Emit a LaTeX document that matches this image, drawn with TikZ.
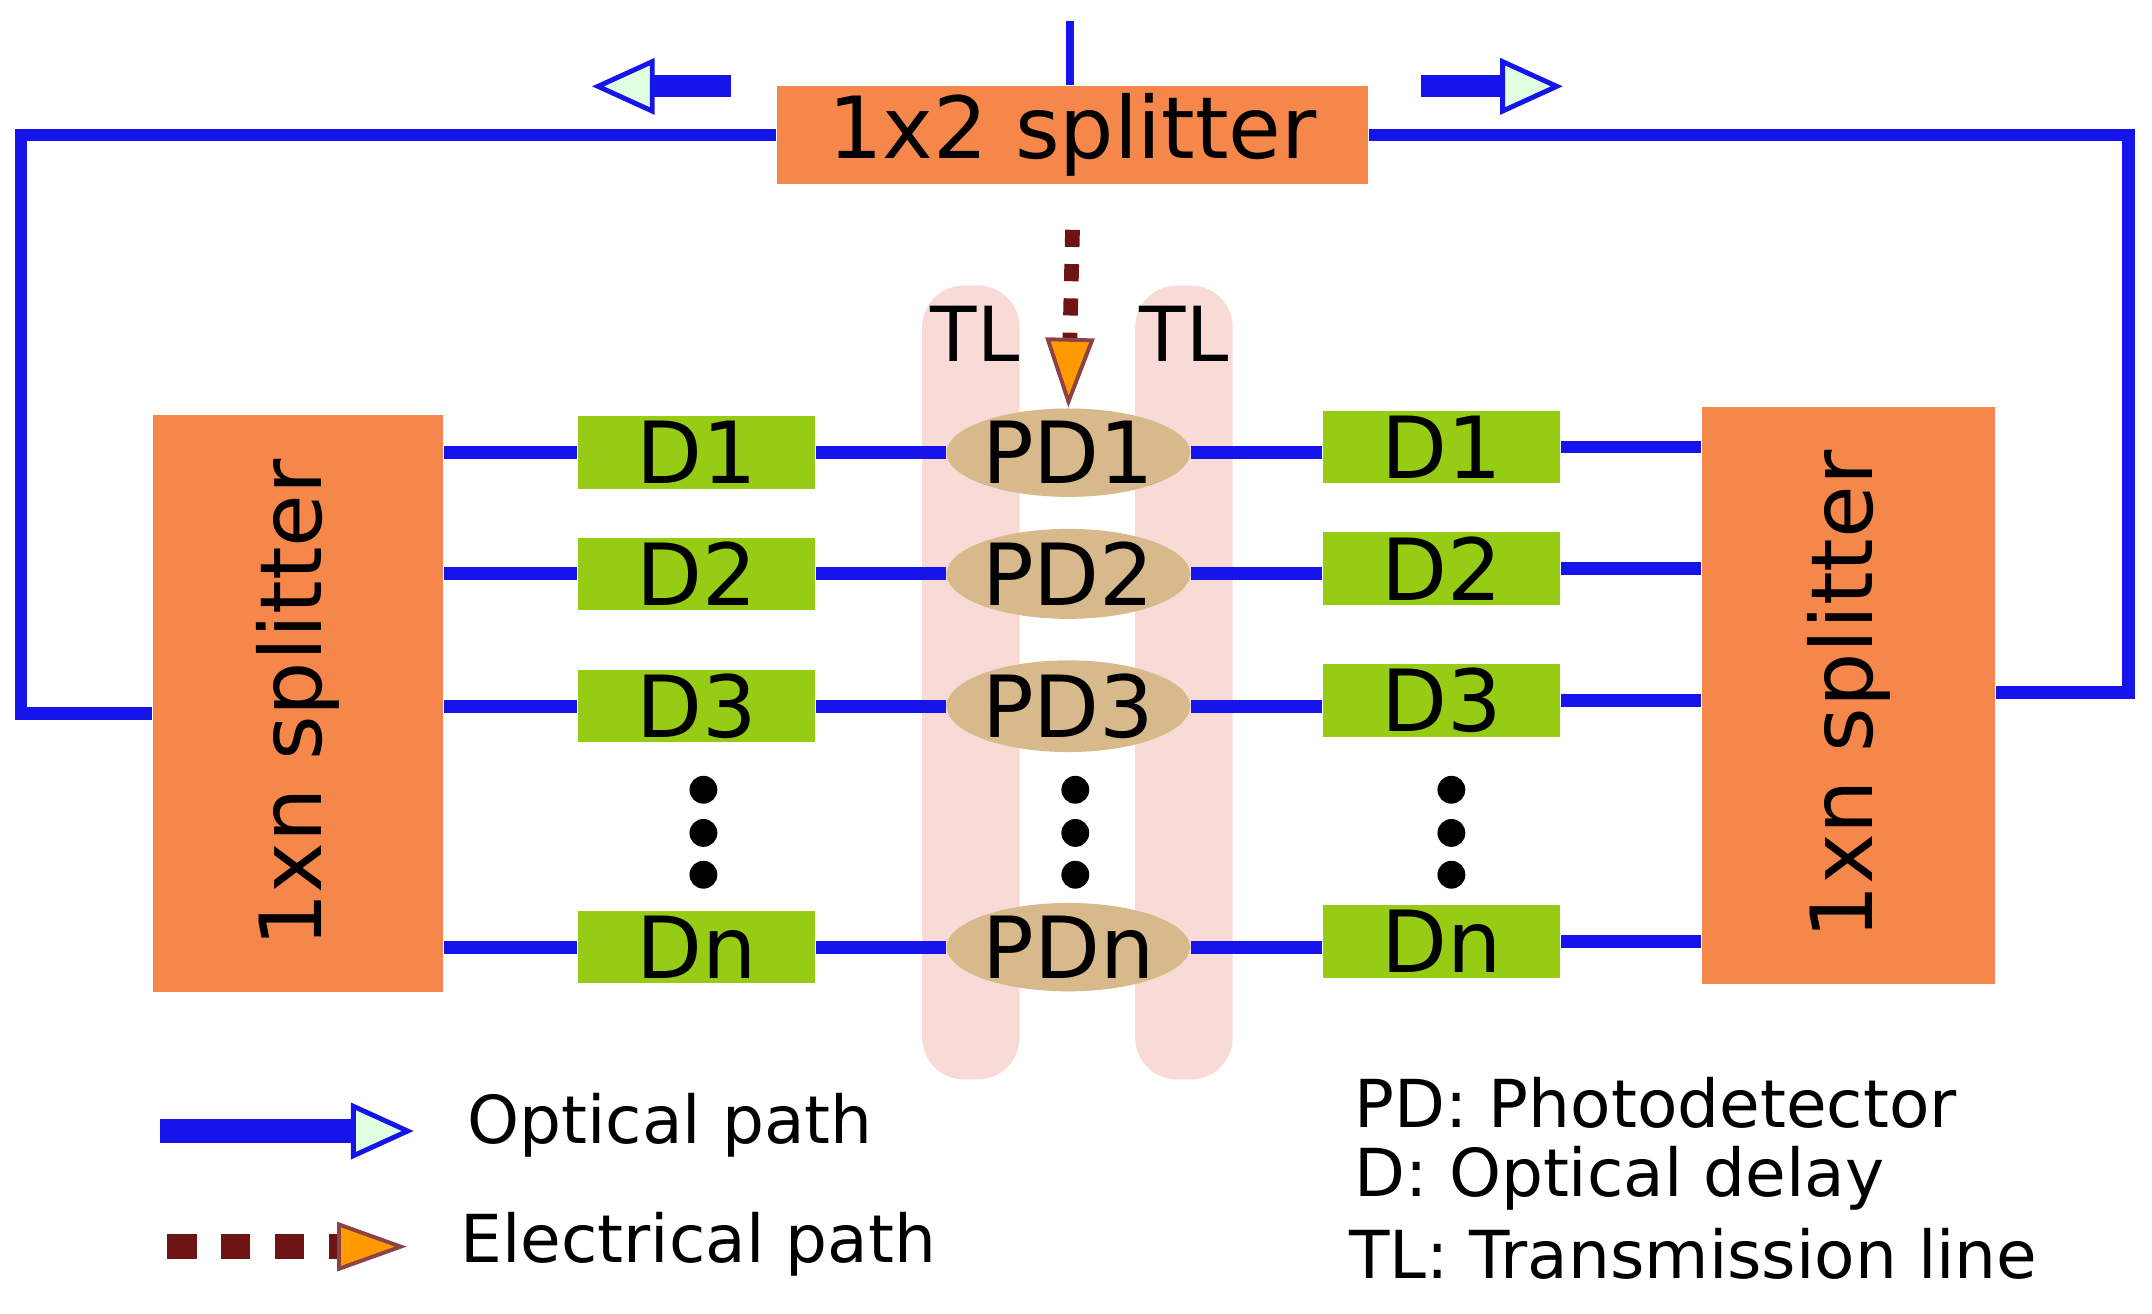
\documentclass[tikz,border=0pt]{standalone}
\usepackage{fontspec}
\setmainfont{DejaVu Sans}
\usetikzlibrary{arrows.meta,shapes.geometric}
\definecolor{orng}{RGB}{245,135,75}
\definecolor{grn}{RGB}{150,205,20}
\definecolor{pdc}{RGB}{215,185,140}
\definecolor{tlc}{RGB}{248,218,215}
\definecolor{dred}{RGB}{110,20,20}
\definecolor{optb}{RGB}{20,20,235}
\tikzset{
  opt/.style={draw=optb,line width=2.6pt},
  splt/.style={fill=orng,draw=none,inner sep=0pt,font=\fontsize{17.5}{21}\selectfont},
  dbox/.style={fill=grn,draw=none,minimum width=1.7cm,minimum height=0.52cm,inner sep=0pt,font=\fontsize{17.5}{21}\selectfont},
  pdn/.style={ellipse,fill=pdc,draw=none,minimum width=1.65cm,minimum height=0.5cm,inner sep=0pt,font=\fontsize{17.5}{21}\selectfont},
  dotc/.style={circle,fill=black,inner sep=0pt,minimum size=0.2cm},
  optarr/.style={opt,-{Triangle[length=0.45cm,width=0.4cm,fill=green!12,color=optb,line width=1pt]}},
  elarr/.style={draw=dred,line width=3pt,dash pattern=on 3.5pt off 3.5pt,-{Triangle[length=0.5cm,width=0.35cm,fill=orange!80!yellow,color=dred!80,line width=0.8pt]}},
  lbl/.style={font=\fontsize{13.5}{16}\selectfont,anchor=west,inner sep=0pt},
  tls/.style={fill=tlc,draw=none,rounded corners=0.3cm}
}
\begin{document}
\begin{tikzpicture}[x=0.01cm,y=-0.01cm]
\useasboundingbox (0,0) rectangle (1545,943);
% TL strips
\fill[tls] (662,205) rectangle (732,775);
\fill[tls] (815,205) rectangle (885,775);
% top splitter
\node[splt,minimum width=4.24cm,minimum height=0.7cm] (top) at (770,97) {1x2 splitter};
\coordinate (in) at (768,15);
\draw[opt,line width=1.6pt] (in) -- (in |- top.north);
% loop
\node[splt,minimum width=2.08cm,minimum height=4.14cm] (L) at (214,505) {\rotatebox{90}{1xn splitter}};
\node[splt,minimum width=2.1cm,minimum height=4.14cm] (R) at (1327,499) {\rotatebox{90}{1xn splitter}};
\draw[opt] (top.west) -- (15,97) |- (L.west |- 0,512);
\draw[opt] (top.east) -- (1528,97) |- (R.east |- 0,497);
% direction arrows
\coordinate (la) at (525,62); \coordinate (lb) at (425,62);
\coordinate (ra) at (1020,62); \coordinate (rb) at (1122,62);
\draw[optarr,line width=4.5pt] (la) -- (lb);
\draw[optarr,line width=4.5pt] (ra) -- (rb);
% rows
\foreach \i/\lab/\y in {1/1/325,2/2/412,3/3/507,4/n/680}{
  \node[dbox] (dl\i) at (500,\y) {D\lab};
  \node[pdn] (pd\i) at (767,\y) {PD\lab};
  \node[dbox] (dr\i) at (1035,\y-4) {D\lab};
  \draw[opt] (L.east |- dl\i) -- (dl\i.west);
  \draw[opt] (dl\i.east) -- (pd\i.west);
  \draw[opt] (pd\i.east) -- (dr\i.west |- pd\i);
  \draw[opt] (dr\i.east) -- (R.west |- dr\i);
}
\foreach \x in {505,772,1042}{
  \node[dotc] (a\x) at (\x,567) {};
  \node[dotc] (b\x) at (\x,598) {};
  \node[dotc] (c\x) at (\x,628) {};
}
% TL labels
\node[font=\fontsize{15.5}{19}\selectfont,inner sep=0pt] (tl1) at (700,240) {TL};
\node[font=\fontsize{15.5}{19}\selectfont,inner sep=0pt] (tl2) at (850,240) {TL};
% electrical path
\coordinate (es) at (770,165);
\draw[elarr] (es) -- (pd1.north);
% legend
\coordinate (o1) at (115,812); \coordinate (o2) at (297,812);
\draw[optarr,line width=5pt] (o1) -- (o2);
\node[lbl] (ol) at (335,808) {Optical path};
\coordinate (e1) at (120,895); \coordinate (e2) at (292,895);
\draw[elarr,line width=5pt,dash pattern=on 6pt off 5pt] (e1) -- (e2);
\node[lbl] (el) at (330,893) {Electrical path};
\node[lbl] (k1) at (972,792) {PD: Photodetector};
\node[lbl] (k2) at (972,846) {D: Optical delay};
\node[lbl] (k3) at (968,900) {TL: Transmission line};
\end{tikzpicture}
\end{document}
